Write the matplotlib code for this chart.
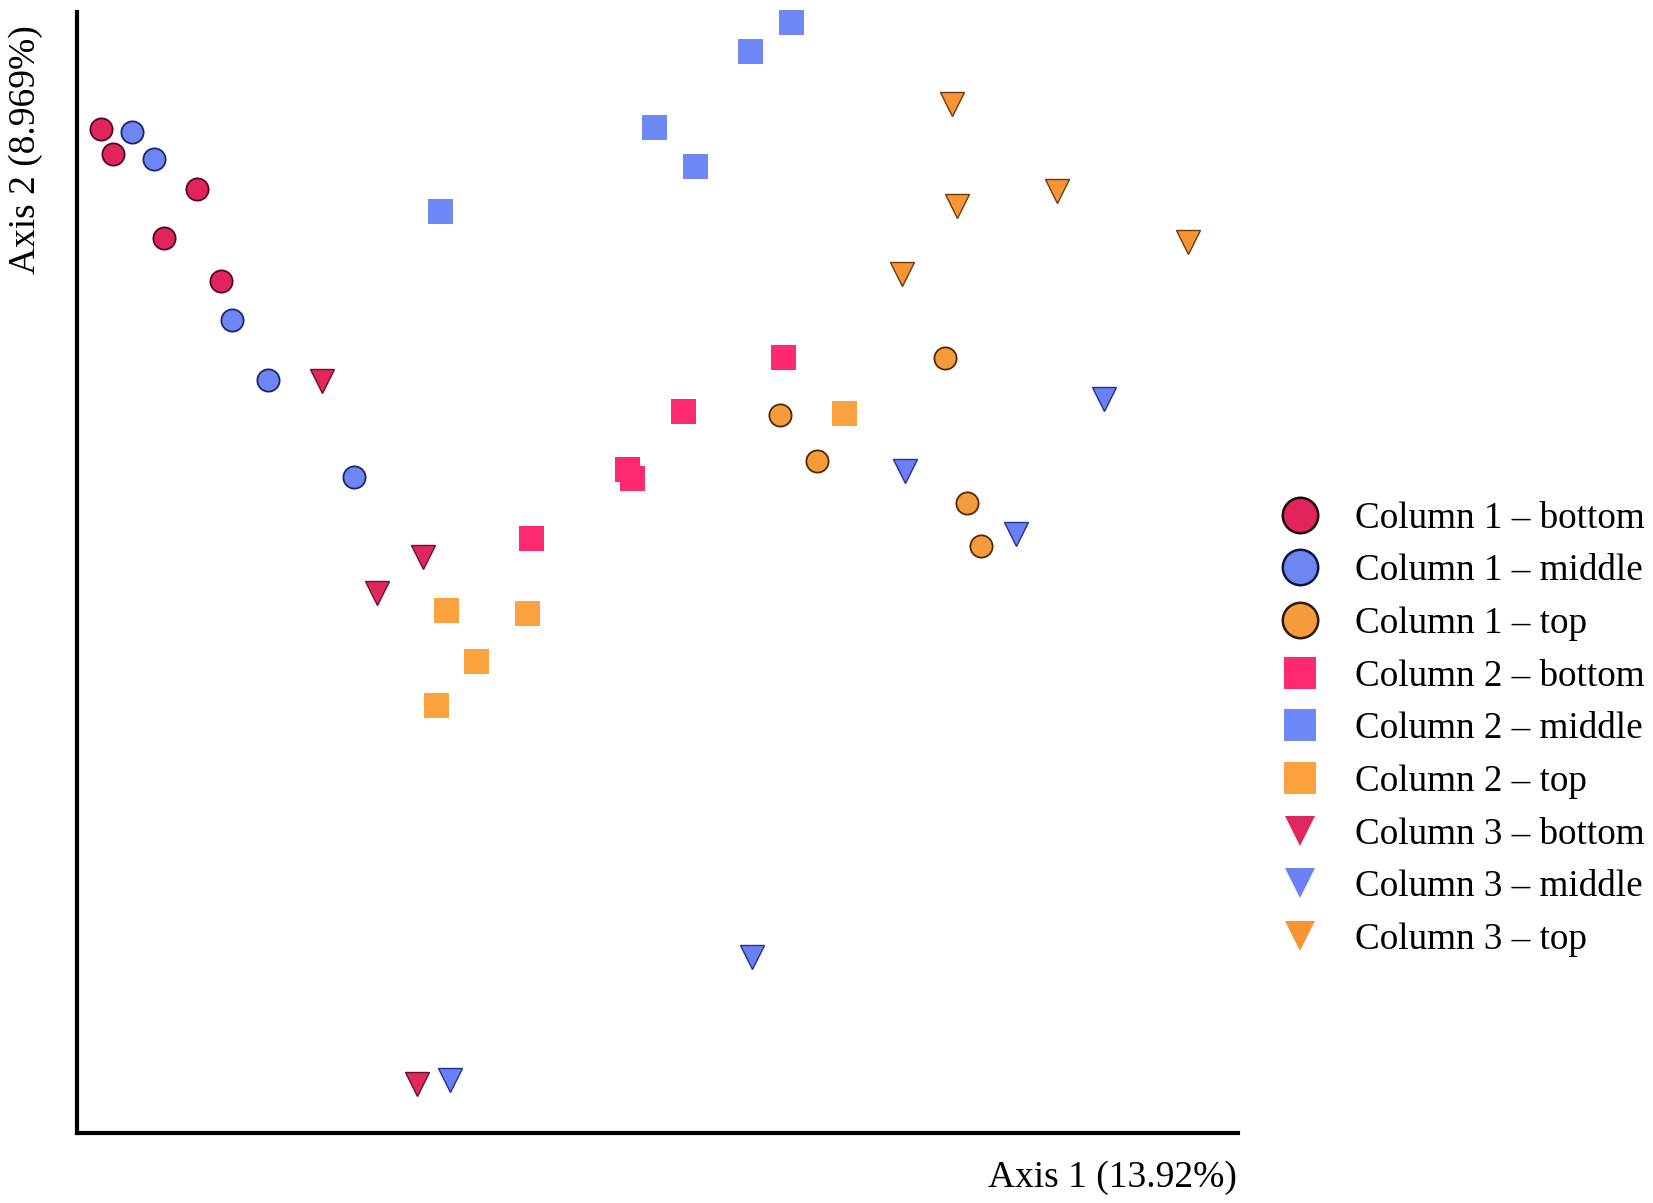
import matplotlib
matplotlib.use("Agg")
import matplotlib.pyplot as plt
from matplotlib.lines import Line2D

# ---- data (axis units: percent of plotted range) ----
labels = ["Column 1 \u2013 bottom", "Column 1 \u2013 middle", "Column 1 \u2013 top",
          "Column 2 \u2013 bottom", "Column 2 \u2013 middle", "Column 2 \u2013 top",
          "Column 3 \u2013 bottom", "Column 3 \u2013 middle", "Column 3 \u2013 top"]

c1_bottom_x = [2.03, 3.11, 10.32, 7.46, 12.35]
c1_bottom_y = [89.54, 87.31, 84.22, 79.81, 76.03]
c1_middle_x = [4.69, 6.60, 13.27, 16.36, 23.78]
c1_middle_y = [89.27, 86.86, 72.52, 67.17, 58.56]
c1_top_x = [74.44, 60.31, 63.48, 76.36, 77.50]
c1_top_y = [69.12, 64.09, 59.95, 56.20, 52.36]

c2_bottom_x = [60.57, 51.99, 47.14, 47.64, 38.91]
c2_bottom_y = [69.22, 64.38, 59.26, 58.47, 53.10]
c2_middle_x = [61.23, 57.74, 49.51, 53.00, 31.09]
c2_middle_y = [99.08, 96.55, 89.74, 86.29, 82.28]
c2_top_x = [65.81, 31.62, 38.62, 34.19, 30.82]
c2_top_y = [64.23, 46.65, 46.41, 42.08, 38.21]

c3_bottom_x = [20.99, 29.70, 25.76, 29.13]
c3_bottom_y = [67.04, 51.40, 48.19, 4.35]
c3_middle_x = [88.08, 71.05, 80.51, 57.89, 31.99]
c3_middle_y = [65.48, 59.07, 53.39, 15.68, 4.75]
c3_top_x = [75.07, 75.45, 84.07, 95.31, 70.73]
c3_top_y = [91.81, 82.67, 84.06, 79.48, 76.66]

xs = [c1_bottom_x, c1_middle_x, c1_top_x, c2_bottom_x, c2_middle_x, c2_top_x,
      c3_bottom_x, c3_middle_x, c3_top_x]
ys = [c1_bottom_y, c1_middle_y, c1_top_y, c2_bottom_y, c2_middle_y, c2_top_y,
      c3_bottom_y, c3_middle_y, c3_top_y]

# ---- styles ----
markers = ["o", "o", "o", "s", "s", "s", "v", "v", "v"]
faces = ["#E3245C", "#6E86F2", "#F59B3B",
         "#FF2A6D", "#6F88F8", "#FBA23F",
         "#E0285E", "#6B80F5", "#F79535"]
edges = ["#4a0d1e", "#1c2570", "#4d2a0a",
         "#FF2A6D", "#6F88F8", "#FBA23F",
         "#6a1028", "#25308a", "#6a3a12"]
sizes = [16.0, 16.0, 16.0, 18.0, 18.0, 18.0, 17.5, 17.5, 17.5]
ewidth = [1.3, 1.3, 1.3, 0.0, 0.0, 0.0, 1.0, 1.0, 1.0]
leg_sizes = [25.5, 25.5, 25.5, 23.5, 23.5, 23.5, 21.5, 21.5, 21.5]
leg_edges = ["#1a0a0a", "#0f1540", "#2a1a08",
             "#FF2A6D", "#6F88F8", "#FBA23F",
             "#E0285E", "#6B80F5", "#F79535"]
leg_ew = [1.8, 1.8, 1.8, 0, 0, 0, 0, 0, 0]

W, H = 1653, 1203
fig = plt.figure(figsize=(W / 100, H / 100), dpi=100)
ax = fig.add_axes([77 / W, 1 - 1133 / H, (1238 - 77) / W, (1133 - 12) / H])

for x, y, m, fc, ec, s, ew in zip(xs, ys, markers, faces, edges, sizes, ewidth):
    ax.plot(x, y, linestyle="none", marker=m, markersize=s, markerfacecolor=fc,
            markeredgecolor=ec, markeredgewidth=ew, clip_on=False, zorder=3)

ax.set_xlim(0, 99.57)
ax.set_ylim(0, 100)
for side in ["top", "right"]:
    ax.spines[side].set_visible(False)
for side in ["left", "bottom"]:
    ax.spines[side].set_linewidth(3.0)
    ax.spines[side].set_color("black")
ax.set_xticks([])
ax.set_yticks([])

serif = ["Liberation Serif", "DejaVu Serif"]
fig.text(1237 / W, 1 - 1178 / H, "Axis 1 (13.92%)", ha="right", va="center",
         fontsize=27, family=serif)
fig.text(26 / W, 1 - 150 / H, "Axis 2 (8.969%)", ha="center", va="center",
         rotation=90, fontsize=27, family=serif)

handles = []
for m, fc, ec, s, ew in zip(markers, faces, leg_edges, leg_sizes, leg_ew):
    handles.append(Line2D([], [], linestyle="none", marker=m, markersize=s,
                          markerfacecolor=fc, markeredgecolor=ec, markeredgewidth=ew))
fig.legend(handles, labels, loc="center left",
           bbox_to_anchor=(1281 / W, 1 - 729 / H), frameon=False,
           prop={"family": serif, "size": 26.7}, handlelength=1.0,
           handletextpad=1.0, labelspacing=0.49, borderpad=0, borderaxespad=0)

fig.savefig("out.png", dpi=100, facecolor="white")
